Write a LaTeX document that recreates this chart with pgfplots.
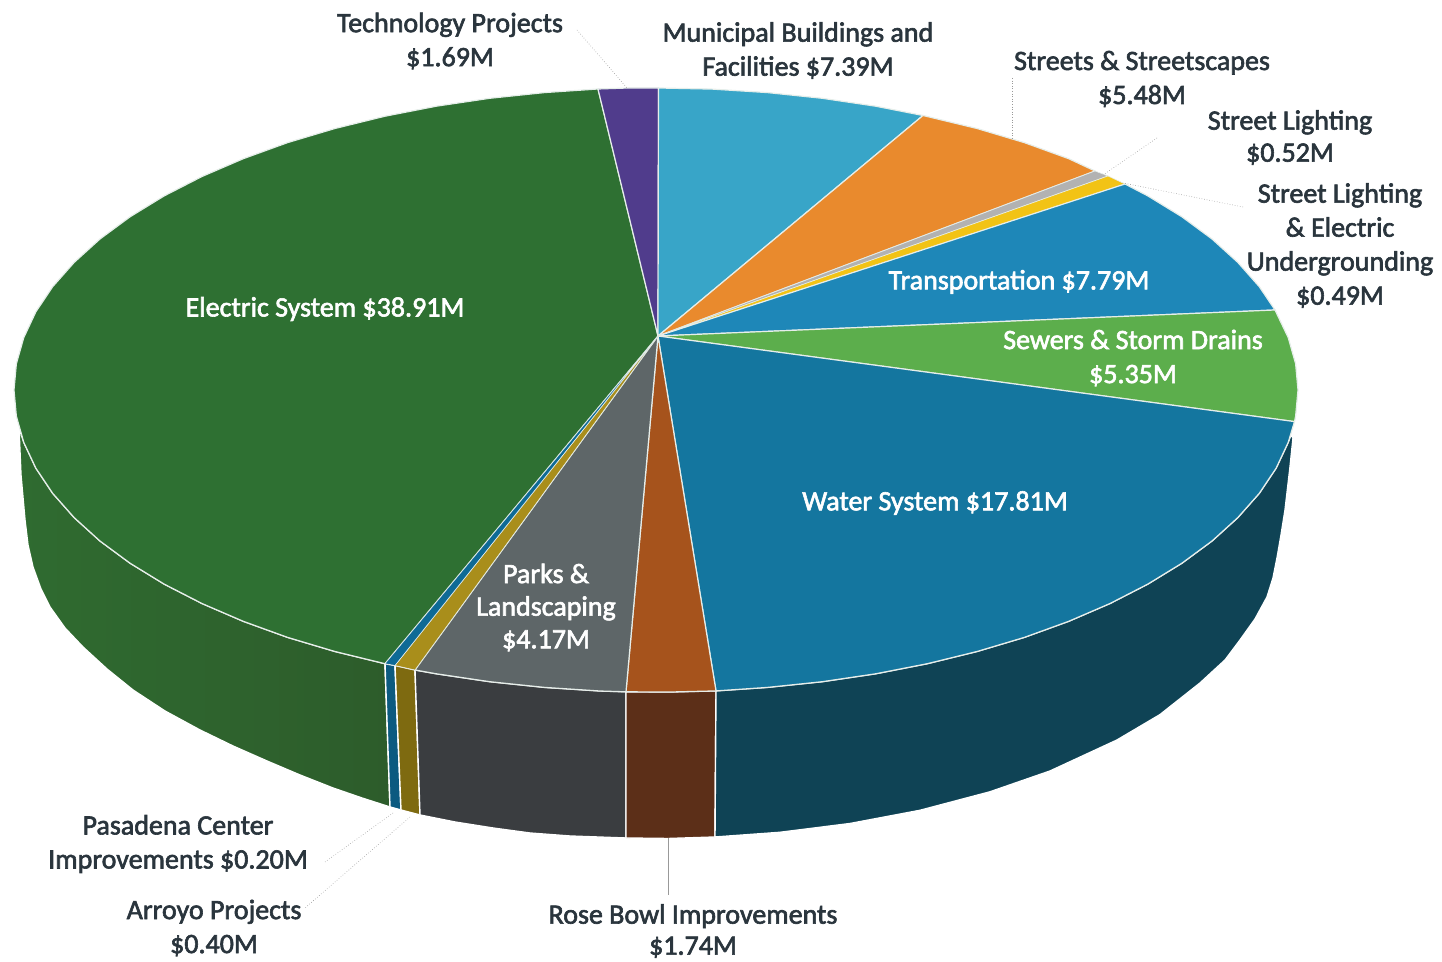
\documentclass[border=0pt]{standalone}
\usepackage{pgfplots}
\pgfplotsset{compat=1.18}
\usepackage{fontspec}
\setmainfont{Carlito}[RawFeature={embolden=2.2}]
\definecolor{txt}{HTML}{2A353D}
\definecolor{sep}{HTML}{E6EEEA}
\definecolor{elec}{HTML}{2E7032}
\definecolor{tech}{HTML}{503C8C}
\definecolor{muni}{HTML}{38A5C8}
\definecolor{strt}{HTML}{E98A2D}
\definecolor{lgray}{HTML}{B2B2B2}
\definecolor{lyell}{HTML}{F2C315}
\definecolor{tran}{HTML}{1E87B8}
\definecolor{sewr}{HTML}{5CAE4C}
\definecolor{watr}{HTML}{14769F}
\definecolor{rose}{HTML}{A6531C}
\definecolor{park}{HTML}{5E6668}
\definecolor{arro}{HTML}{A98E1B}
\definecolor{pasa}{HTML}{0E6A96}
\definecolor{elecsa}{HTML}{2F6B30}
\definecolor{elecsb}{HTML}{2D5C2B}
\definecolor{parks}{HTML}{3A3D40}
\definecolor{roses}{HTML}{5C2F18}
\definecolor{watrs}{HTML}{0F4355}
\definecolor{arros}{HTML}{7E6A10}
\definecolor{pasas}{HTML}{0C5A80}
\tikzset{
  slice/.style={fill=#1, draw=sep, line width=0.6pt, line join=round},
  thin slice/.style={fill=#1, draw=sep, line width=0.3pt, line join=round},
  wall/.style={fill=#1, draw=white, line width=0.7pt, line join=round},
  leader/.style={black!40, line width=0.3pt, densely dotted},
  lab/.style={align=center, font=\fontsize{14}{17}\selectfont, text=txt, inner sep=0pt},
  wlab/.style={lab, text=white},
}
\begin{document}
\begin{tikzpicture}
\begin{axis}[
    width=721pt, height=481pt, scale only axis,
    xmin=0, xmax=1442, ymin=0, ymax=962, y dir=reverse,
    hide axis, clip=false,
  ]
% side walls
\addplot[draw=white, line width=0.7pt, shade, left color=elecsa, right color=elecsb] coordinates {
  (19,428) (23.8,442.4) (35.9,468.2) (52.7,493.3) (74.2,517.6) (100,541) (130.1,563.2) (164.2,584.1)
  (202,603.5) (243.3,621.3) (287.7,637.4) (335,651.5) (385,663.7)
  (390,807) (362,798) (333,788) (300,775) (267,761) (233,746) (200,730) (165,711) (133,690)
  (107,669) (83,647) (65,628) (50,607) (41,589) (33,567) (28,545) (25,520) (21,475)} -- cycle;
\addplot[wall=pasas] coordinates {(385,663.7) (395,665.5) (401,810) (390,807)} -- cycle;
\addplot[wall=arros] coordinates {(395,665.5) (415,670) (420,815) (401,810)} -- cycle;
\addplot[wall=parks] coordinates {(415,670) (436.4,673.8) (489.8,681.7) (544.5,687.4) (600,691) (626,691.8)
  (626,838) (570,836) (530,833) (493,828) (455,822) (420,815)} -- cycle;
\addplot[wall=roses] coordinates {(626,691.8) (670,692) (716,690.9) (715,837) (668,838.5) (626,838)} -- cycle;
\addplot[wall=watrs] coordinates {(716,690.9) (767.5,687.4) (822.2,681.7) (875.6,673.8) (927.3,663.7) (977,651.5)
  (1024.3,637.4) (1068.7,621.3) (1110,603.5) (1147.8,584.1) (1181.9,563.2) (1212,541) (1237.8,517.6)
  (1259.3,493.3) (1276.1,468.2) (1288.2,442.4) (1291,435)
  (1293,438) (1290,467) (1285,510) (1281,535) (1277,558) (1273,578) (1267,597) (1255,619) (1240,640) (1225,660)
  (1200,683) (1160,714.6) (1117,740) (1050,771) (990,791.8) (920,810.3) (850,823.5) (780,832.3) (715,837)} -- cycle;
% top face, slices clockwise from the technology slice
\addplot[slice=elec] coordinates {(658,336) (385,663.7) (335,651.5) (287.7,637.4) (243.3,621.3) (202,603.5)
  (164.2,584.1) (130.1,563.2) (100,541) (74.2,517.6) (52.7,493.3) (35.9,468.2) (23.8,442.4) (16.4,416.3)
  (14,390) (16.4,363.7) (23.8,337.6) (35.9,311.8) (52.7,286.7) (74.2,262.4) (100,239) (130.1,216.8)
  (164.2,195.9) (202,176.5) (243.3,158.7) (287.7,142.6) (335,128.5) (384.7,116.3) (436.4,106.2)
  (489.8,98.3) (544.5,92.6) (598,89)} -- cycle;
\addplot[slice=tech] coordinates {(658,336) (598,89) (628,88) (658.5,88)} -- cycle;
\addplot[slice=muni] coordinates {(658,336) (658.5,88) (712,89.1) (767.5,92.6) (822.2,98.3) (875.6,106.2) (923,115.5)} -- cycle;
\addplot[slice=strt] coordinates {(658,336) (923,115.5) (977,128.5) (1024.3,142.6) (1068.7,158.7) (1095,171)} -- cycle;
\addplot[thin slice=lgray] coordinates {(658,336) (1095,171) (1108,176)} -- cycle;
\addplot[thin slice=lyell] coordinates {(658,336) (1108,176) (1125,184)} -- cycle;
\addplot[slice=tran] coordinates {(658,336) (1125,184) (1147.8,195.9) (1181.9,216.8) (1212,239) (1237.8,262.4) (1259.3,286.7) (1275,310)} -- cycle;
\addplot[slice=sewr] coordinates {(658,336) (1275,310) (1288.2,337.6) (1295.6,363.7) (1298,390) (1295.6,416.3) (1294.5,421.6)} -- cycle;
\addplot[slice=watr] coordinates {(658,336) (1294.5,421.6) (1288.2,442.4) (1276.1,468.2) (1259.3,493.3) (1237.8,517.6)
  (1212,541) (1181.9,563.2) (1147.8,584.1) (1110,603.5) (1068.7,621.3) (1024.3,637.4) (977,651.5) (927.3,663.7)
  (875.6,673.8) (822.2,681.7) (767.5,687.4) (716,690.9)} -- cycle;
\addplot[slice=rose] coordinates {(658,336) (716,690.9) (670,692) (626,691.8)} -- cycle;
\addplot[slice=park] coordinates {(658,336) (626,691.8) (600,691) (544.5,687.4) (489.8,681.7) (436.4,673.8) (415,670)} -- cycle;
\addplot[thin slice=arro] coordinates {(658,336) (415,670) (395,665.5)} -- cycle;
\addplot[thin slice=pasa] coordinates {(658,336) (395,665.5) (385,663.7)} -- cycle;
% leader lines
\addplot[leader] coordinates {(577,30) (627,88)};
\addplot[leader] coordinates {(1012,78) (1012,140)};
\addplot[leader] coordinates {(1157,138) (1103,175)};
\addplot[leader] coordinates {(1243,207) (1123,183)};
\addplot[leader] coordinates {(393,813) (325,862)};
\addplot[leader] coordinates {(410,817) (305,908)};
\addplot[black!40, line width=0.4pt] coordinates {(668,838) (668,895)};
% labels
\node[lab] at (axis cs:450,41) {Technology Projects\\\$1.69M};
\node[lab] at (axis cs:798,50.5) {Municipal Buildings and\\Facilities \$7.39M};
\node[lab] at (axis cs:1142,79) {Streets \& Streetscapes\\\$5.48M};
\node[lab] at (axis cs:1290,137.5) {Street Lighting\\[-1pt]\$0.52M};
\node[lab] at (axis cs:1340,245.5) {Street Lighting\\\& Electric\\Undergrounding\\\$0.49M};
\node[lab] at (axis cs:178,844) {Pasadena Center\\Improvements \$0.20M};
\node[lab] at (axis cs:214,928) {Arroyo Projects\\\$0.40M};
\node[lab] at (axis cs:693,931) {Rose Bowl Improvements\\[-1.5pt]\$1.74M};
\node[wlab] at (axis cs:1019,282) {Transportation \$7.79M};
\node[wlab] at (axis cs:1133,358) {Sewers \& Storm Drains\\\$5.35M};
\node[wlab] at (axis cs:325,309) {Electric System \$38.91M};
\node[wlab] at (axis cs:935,503) {Water System \$17.81M};
\node[wlab] at (axis cs:546,607.5) {Parks \&\\[-0.7pt]Landscaping\\[-0.7pt]\$4.17M};
\end{axis}
\pgfresetboundingbox
\path[use as bounding box] (0,0) rectangle (721pt,481pt);
\end{tikzpicture}
\end{document}
